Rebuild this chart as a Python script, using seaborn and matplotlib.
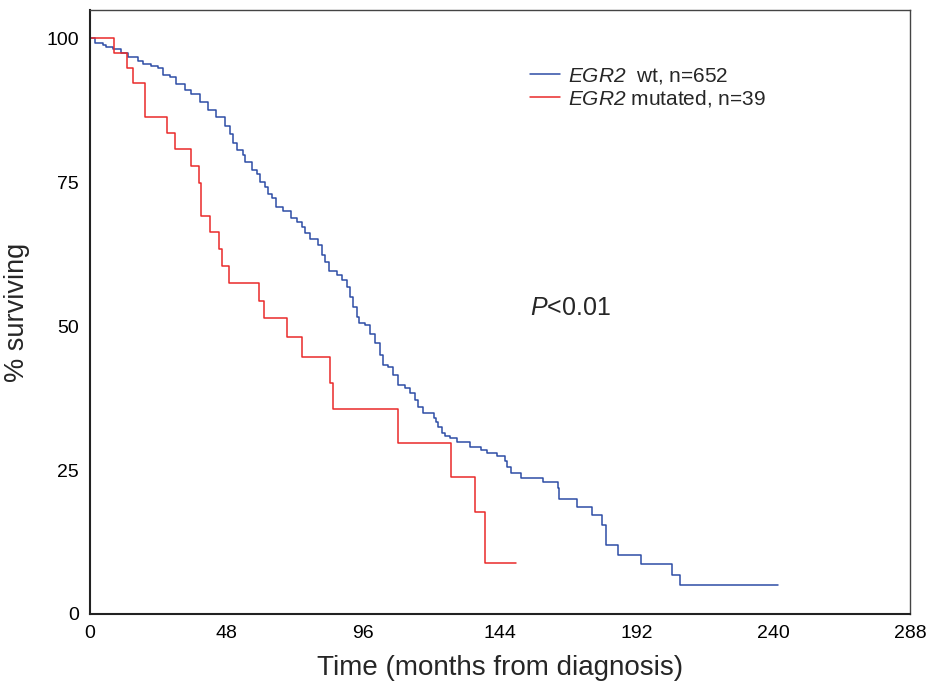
import matplotlib
matplotlib.use("Agg")
import matplotlib.pyplot as plt
import seaborn as sns
import pandas as pd

# Kaplan-Meier curves (time in months, % surviving)
wt_time = [0, 1.6, 4.6, 5.7, 8.1, 11.0, 13.3, 16.9, 18.6, 21.5, 23.9, 25.6, 28.0,
           30.3, 33.3, 35.6, 38.5, 41.4, 44.4, 47.3, 49.2, 50.3, 51.7, 53.9, 54.4,
           56.8, 58.5, 59.7, 61.5, 62.6, 63.8, 65.3, 67.9, 70.5, 72.6, 74.4, 75.5,
           77.3, 80.2, 81.4, 82.5, 84.1, 86.6, 88.4, 90.2, 91.3, 92.5, 93.7, 94.6,
           96.6, 98.3, 100.1, 101.9, 103.0, 104.8, 106.5, 108.3, 110.6, 112.4,
           114.2, 115.3, 117.1, 120.8, 121.5, 122.3, 123.5, 124.7, 126.4, 128.8,
           133.5, 137.2, 139.3, 142.8, 145.8, 146.6, 147.7, 151.3, 159.0, 164.5,
           164.8, 171.2, 176.4, 179.7, 181.1, 185.5, 193.5, 204.5, 207.1, 241.8]
wt_surv = [100, 99.2, 98.9, 98.5, 98.1, 97.5, 96.8, 96.1, 95.5, 95.2, 94.8, 93.6, 93.3,
           92.0, 91.0, 90.3, 88.9, 87.5, 86.3, 84.7, 83.3, 81.8, 80.6, 79.7, 78.5,
           77.1, 76.4, 75.1, 74.2, 73.0, 72.2, 70.6, 70.0, 68.8, 68.1, 67.2, 66.1,
           65.2, 64.1, 62.3, 61.2, 59.5, 58.9, 58.0, 56.8, 55.1, 53.4, 51.6, 50.6,
           50.2, 48.7, 47.0, 45.0, 43.3, 42.9, 41.5, 39.8, 39.2, 38.3,
           37.2, 36.0, 34.9, 34.0, 33.4, 32.5, 31.4, 30.9, 30.5, 29.9,
           29.0, 28.5, 28.0, 27.4, 26.6, 25.6, 24.5, 23.7, 23.0, 21.8,
           20.0, 18.6, 17.2, 15.5, 12.0, 10.2, 8.6, 6.8, 5.1, 5.1]

mut_time = [0, 8.5, 12.9, 15.2, 19.3, 26.9, 29.9, 35.5, 38.4, 38.9, 42.1, 45.3, 46.2,
            48.8, 59.5, 61.2, 69.3, 74.4, 84.2, 85.2, 108.2, 126.7, 135.2, 138.7, 149.6]
mut_surv = [100, 97.4, 94.8, 92.2, 86.4, 83.6, 80.7, 77.8, 74.9, 69.1, 66.3, 63.4, 60.5,
            57.5, 54.4, 51.4, 48.1, 44.6, 40.1, 35.6, 29.7, 23.8, 17.8, 8.9, 8.9]

group_labels = [r"$\mathrm{EGR2}$  wt, n=652", r"$\mathrm{EGR2}$ mutated, n=39"]
x_ticks = [0, 48, 96, 144, 192, 240, 288]
y_ticks = [0, 25, 50, 75, 100]

sns.set_style("white")
plt.rcParams["font.family"] = ["Liberation Sans", "DejaVu Sans"]
plt.rcParams["mathtext.fontset"] = "custom"
plt.rcParams["mathtext.rm"] = "Liberation Sans:italic"
plt.rcParams["mathtext.it"] = "Liberation Sans:italic"

fig = plt.figure(figsize=(9.31, 6.88), dpi=100)
ax = fig.add_axes([90 / 931, 1 - 614 / 688, 820 / 931, 604 / 688])

df_wt = pd.DataFrame({"time": wt_time, "surv": wt_surv})
df_mut = pd.DataFrame({"time": mut_time, "surv": mut_surv})

sns.lineplot(data=df_wt, x="time", y="surv", ax=ax, estimator=None, sort=False,
             drawstyle="steps-post", color="#2D4DA6", linewidth=1.1, label=group_labels[0])
sns.lineplot(data=df_mut, x="time", y="surv", ax=ax, estimator=None, sort=False,
             drawstyle="steps-post", color="#EA2A2A", linewidth=1.1, label=group_labels[1])

ax.set_xlim(0, 288)
ax.set_ylim(0, 104.9)
ax.set_xticks(x_ticks)
ax.set_yticks(y_ticks)
ax.set_xticklabels([str(v) for v in x_ticks])
ax.set_yticklabels([str(v) for v in y_ticks])
ax.tick_params(axis="both", direction="in", length=4, width=1, labelsize=14, pad=8,
               colors="#222222", labelcolor="black")
for name, sp in ax.spines.items():
    sp.set_visible(True)
    if name in ("left", "bottom"):
        sp.set_color("#222222")
        sp.set_linewidth(1.5)
    else:
        sp.set_color("#444444")
        sp.set_linewidth(1.0)

ax.set_xlabel("Time (months from diagnosis)", fontsize=20, labelpad=9)
ax.set_ylabel("% surviving", fontsize=19.5, labelpad=12)

leg = ax.legend(loc="upper left", bbox_to_anchor=((530 - 90) / 820, (614 - 66) / 604),
                frameon=False, fontsize=15, handlelength=1.45, handletextpad=0.35,
                labelspacing=0.1, borderpad=0, borderaxespad=0)

ax.text((530 - 90) / 820, (614 - 308) / 604, r"$P$<0.01", transform=ax.transAxes,
        fontsize=18, ha="left", va="center")

fig.savefig("out.png", dpi=100)
